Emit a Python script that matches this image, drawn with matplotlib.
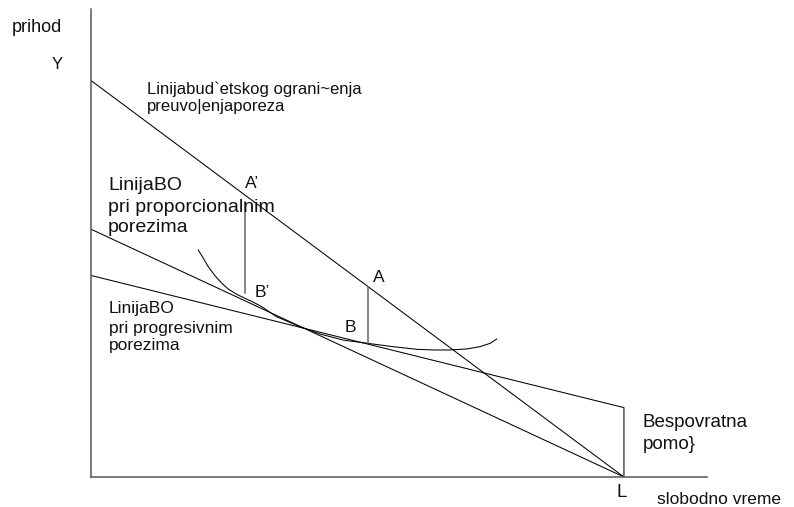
import matplotlib
matplotlib.use("Agg")
import matplotlib.pyplot as plt

# Labor-leisure diagram: free time on x (hours), income on y
total_time = 24.0            # L: all hours taken as free time
income_no_tax = 240.0        # Y: budget line before taxes
income_proportional = 150.0  # budget line with proportional taxes
income_progressive = 122.0   # budget line with progressive taxes
grant = 42.0                 # non-refundable aid received at L

# Indifference curve read point by point
curve_x = [4.83, 5.06, 5.28, 5.58, 5.89, 6.18, 6.56, 6.93, 7.31, 7.69,
           8.36, 9.41, 10.31, 11.35, 12.47, 13.60, 14.67, 15.41, 16.17,
           16.92, 17.52, 17.97, 18.27]
curve_y = [137.4, 132.4, 127.3, 121.9, 117.3, 113.8, 110.6, 108.2, 105.8,
           103.1, 97.0, 91.0, 86.6, 82.9, 80.9, 78.9, 77.3, 76.9, 76.9,
           77.5, 78.9, 80.9, 83.5]

# A' / B' (proportional tax) and A / B (progressive tax)
a_prime_x = 6.93
a_prime_y = 166.6
b_prime_y = 111.4
a_x = 12.47
b_y = 80.9

W, H = 794, 507
fig = plt.figure(figsize=(W / 100, H / 100), dpi=100)
fig.patch.set_facecolor("white")
plt.rcParams["font.family"] = ["Liberation Sans", "DejaVu Sans"]

ax = fig.add_axes([91 / W, 30 / H, 616 / W, 468 / H])
ax.set_xlim(0, 27.74)
ax.set_ylim(0, 283.3)
for side in ("top", "right"):
    ax.spines[side].set_visible(False)
for side in ("left", "bottom"):
    ax.spines[side].set_color("#555555")
    ax.spines[side].set_linewidth(1.1)
ax.set_xticks([])
ax.set_yticks([])

line_kw = dict(color="black", lw=0.75, solid_capstyle="butt")

# budget lines
ax.plot([0, total_time], [income_no_tax, 0], **line_kw)
ax.plot([0, total_time], [income_proportional, 0], **line_kw)
ax.plot([0, total_time, total_time], [income_progressive, grant, 0], **line_kw)

# indifference curve
ax.plot(curve_x, curve_y, color="black", lw=0.75, solid_joinstyle="round")

# vertical distances A'-B' and A-B
a_y = income_no_tax * (1 - a_x / total_time)
ax.plot([a_prime_x, a_prime_x], [a_prime_y, b_prime_y], color="#666666", lw=1.1)
ax.plot([a_x, a_x], [a_y, b_y], color="#666666", lw=1.1)


def label(x, y, s, size):
    fig.text(x / W, 1 - y / H, s, fontsize=size, va="baseline", ha="left",
             color="#111111")


label(12, 31.7, "prihod", 13)
label(52, 69.3, "Y", 12)
label(147, 94, "Linijabud`etskog ograni~enja", 12)
label(147, 111, "preuvo|enjaporeza", 12)
label(108, 190, "LinijaBO", 14)
label(108, 211.7, "pri proporcionalnim", 14)
label(108, 231.7, "porezima", 14)
label(109, 313.3, "LinijaBO", 12.5)
label(109, 333.3, "pri progresivnim", 12.5)
label(109, 350, "porezima", 12.5)
label(245, 188, "A\u2019", 12.5)
label(255, 297, "B\u2019", 12.5)
label(373, 282, "A", 12.5)
label(345, 332, "B", 12.5)
label(643, 426.7, "Bespovratna", 13.5)
label(643, 449, "pomo}", 13.5)
label(616, 497, "L", 13.5)
label(657, 504, "slobodno vreme", 12.5)

fig.savefig("out.png", dpi=100, facecolor="white")
